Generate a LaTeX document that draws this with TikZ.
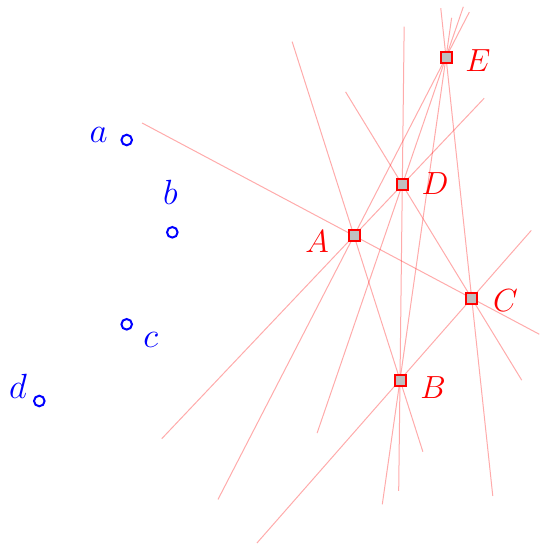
\RequirePackage{fix-cm}
\documentclass[tikz,border=0pt]{standalone}
\usetikzlibrary{backgrounds}
\begin{document}
\begin{tikzpicture}[x=1pt,y=-1pt,
  sq/.style={draw=red,line width=2pt,fill=lightgray,minimum size=11pt,inner sep=0pt,shape=rectangle},
  pt/.style={draw=blue,line width=2pt,circle,minimum size=10.6pt,inner sep=0pt},
  rlab/.style={text=red,inner sep=0pt,font=\fontsize{32}{37}\selectfont},
  blab/.style={text=blue,inner sep=0pt,font=\fontsize{35}{40}\selectfont},
  ln/.style={draw=red,draw opacity=0.33,line width=1pt}]
\useasboundingbox (0,0) rectangle (541,545);
% red points
\node[sq] (A) at (354,235.7) {};
\node[sq] (B) at (400,380) {};
\node[sq] (C) at (471.7,298.3) {};
\node[sq] (D) at (402.3,184.7) {};
\node[sq] (E) at (446,57.3) {};
\node[rlab] (LA) at (317,242) {$A$};
\node[rlab] (LB) at (433,388) {$B$};
\node[rlab] (LC) at (505.5,301) {$C$};
\node[rlab] (LD) at (435,184) {$D$};
\node[rlab] (LE) at (478,61) {$E$};
% blue points
\node[pt] (a) at (126.7,140) {};
\node[pt] (b) at (172.3,232.3) {};
\node[pt] (c) at (126.7,324.3) {};
\node[pt] (d) at (39.3,401) {};
\node[blab] (la) at (98.7,135) {$a$};
\node[blab] (lb) at (170.5,192.8) {$b$};
\node[blab] (lc) at (150.8,340) {$c$};
\node[blab] (ld) at (18,386) {$d$};
% lines
\begin{pgfonlayer}{background}
\draw[ln,shorten <=-203.7pt,shorten >=-75.3pt] (A.center) -- (B.center);
\draw[ln,shorten <=-240.1pt,shorten >=-76.6pt] (A.center) -- (C.center);
\draw[ln,shorten <=-279.6pt,shorten >=-119.1pt] (A.center) -- (D.center);
\draw[ln,shorten <=-296.8pt,shorten >=-50.9pt] (A.center) -- (E.center);
\draw[ln,shorten <=-216.9pt,shorten >=-90.4pt] (B.center) -- (C.center);
\draw[ln,shorten <=-111pt,shorten >=-158pt] (B.center) -- (D.center);
\draw[ln,shorten <=-125.6pt,shorten >=-39.9pt] (B.center) -- (E.center);
\draw[ln,shorten <=-96pt,shorten >=-108.8pt] (C.center) -- (D.center);
\draw[ln,shorten <=-198.8pt,shorten >=-49.5pt] (C.center) -- (E.center);
\draw[ln,shorten <=-262.6pt,shorten >=-53.4pt] (D.center) -- (E.center);
\end{pgfonlayer}
\end{tikzpicture}
\end{document}
